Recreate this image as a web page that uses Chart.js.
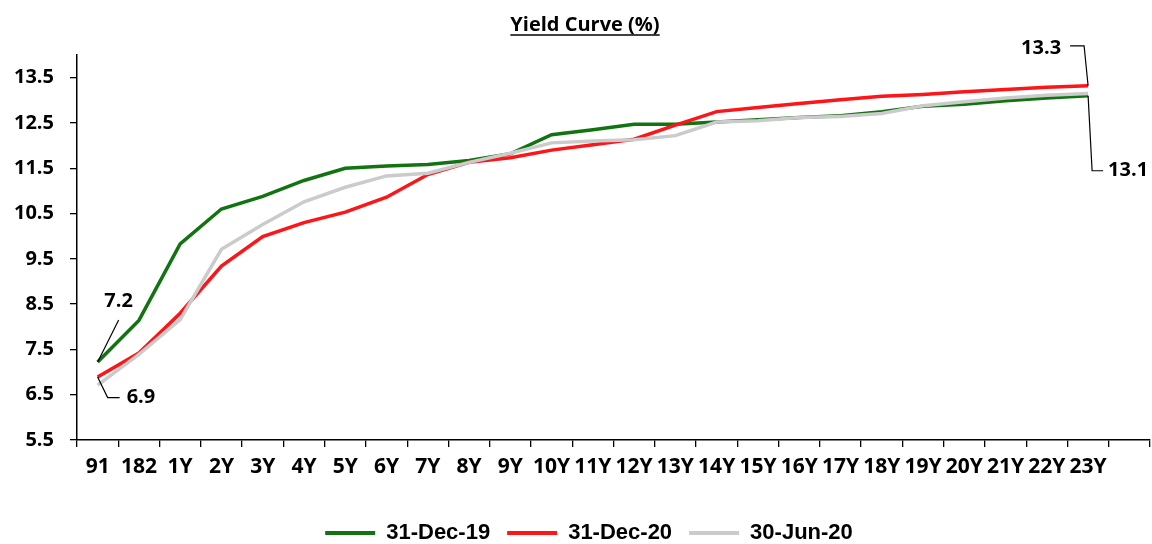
<!DOCTYPE html>
<html>
<head>
<meta charset="utf-8">
<script src="https://cdn.jsdelivr.net/npm/chart.js@4.4.1/dist/chart.umd.min.js"></script>
<style>
  html, body { margin: 0; padding: 0; background: #ffffff; }
  #wrap { width: 1152px; height: 544px; }
</style>
</head>
<body>
<div id="wrap"><canvas id="yieldChart" width="1152" height="544"></canvas></div>
<script>
// Tenors along the curve (the trailing blank slot leaves room on the right)
const tenors = ['91', '182', '1Y', '2Y', '3Y', '4Y', '5Y', '6Y', '7Y', '8Y', '9Y', '10Y',
  '11Y', '12Y', '13Y', '14Y', '15Y', '16Y', '17Y', '18Y', '19Y', '20Y', '21Y', '22Y', '23Y', ''];

// Yields (%) per tenor
const dec19 = [7.22, 8.14, 9.83, 10.60, 10.88, 11.23, 11.50, 11.55, 11.58, 11.67, 11.82, 12.24,
  12.35, 12.47, 12.47, 12.52, 12.57, 12.62, 12.66, 12.75, 12.87, 12.91, 12.99, 13.05, 13.10];
const dec20 = [6.89, 7.42, 8.30, 9.34, 9.99, 10.30, 10.53, 10.86, 11.36, 11.63, 11.73, 11.90,
  12.02, 12.14, 12.45, 12.75, 12.84, 12.93, 13.01, 13.09, 13.13, 13.19, 13.24, 13.29, 13.32];
const jun20 = [6.71, 7.39, 8.16, 9.71, 10.26, 10.76, 11.08, 11.33, 11.39, 11.63, 11.83, 12.06,
  12.10, 12.13, 12.22, 12.52, 12.55, 12.62, 12.64, 12.71, 12.88, 12.97, 13.05, 13.11, 13.15];

const seriesNames = ['31-Dec-19', '31-Dec-20', '30-Jun-20'];
const yTickValues = [5.5, 6.5, 7.5, 8.5, 9.5, 10.5, 11.5, 12.5, 13.5];
const yMin = 5.5;
const yMax = 14;

const BOLD = 'bold';
const yTickFont = { family: "'Open Sans', sans-serif", size: 20, weight: BOLD };
const xTickFont = { family: "'Open Sans', sans-serif", size: 21, weight: BOLD };

// Value callouts: which point, leader path (pixel offsets from the point) and label placement
const callouts = [
  { ds: 0, idx: 0, path: [[0, 0], [21, -42]], dx: 21, dy: -61, align: 'center' },
  { ds: 1, idx: 0, path: [[0, 0], [10, 20.5], [22, 20.5]], dx: 29, dy: 20.5, align: 'left' },
  { ds: 1, idx: 24, path: [[0, 0], [-4, -40], [-18, -40]], dx: -27, dy: -38, align: 'right' },
  { ds: 0, idx: 24, path: [[0, 0], [4, 75], [15, 75]], dx: 20, dy: 75, align: 'left' }
];

const calloutPlugin = {
  id: 'callouts',
  afterDatasetsDraw(chart) {
    const ctx = chart.ctx;
    ctx.save();
    ctx.strokeStyle = '#000000';
    ctx.lineWidth = 1.2;
    ctx.fillStyle = '#000000';
    ctx.font = "bold 20px 'Open Sans', sans-serif";
    ctx.textBaseline = 'middle';
    callouts.forEach(c => {
      const pt = chart.getDatasetMeta(c.ds).data[c.idx];
      const value = chart.data.datasets[c.ds].data[c.idx];
      ctx.beginPath();
      c.path.forEach(([ox, oy], i) => {
        if (i === 0) ctx.moveTo(pt.x + ox, pt.y + oy); else ctx.lineTo(pt.x + ox, pt.y + oy);
      });
      ctx.stroke();
      ctx.textAlign = c.align;
      ctx.fillText(value.toFixed(1), pt.x + c.dx, pt.y + c.dy);
    });
    ctx.restore();
  }
};

// Nudge the full-width title and legend boxes to the right of the canvas centre
const boxShift = { title: 10, legend: 14 };
const shiftBoxes = {
  id: 'shiftBoxes',
  afterLayout(chart) {
    if (chart.titleBlock) { chart.titleBlock.left += boxShift.title; chart.titleBlock.right += boxShift.title; }
    if (chart.legend) { chart.legend.left += boxShift.legend; chart.legend.right += boxShift.legend; }
  }
};

// Underline beneath the chart title
const titleUnderline = {
  id: 'titleUnderline',
  afterDraw(chart) {
    const tb = chart.titleBlock;
    if (!tb) return;
    const ctx = chart.ctx;
    const opts = chart.options.plugins.title;
    ctx.save();
    ctx.font = "bold 20px 'Open Sans', sans-serif";
    const w = ctx.measureText(opts.text).width;
    const cx = (tb.left + tb.right) / 2;
    const y = tb.top + opts.padding.top + 22;
    ctx.strokeStyle = '#000000';
    ctx.lineWidth = 1.5;
    ctx.beginPath();
    ctx.moveTo(cx - w / 2, y);
    ctx.lineTo(cx + w / 2, y);
    ctx.stroke();
    ctx.restore();
  }
};

const lineStyle = (label, data, color, order) => ({
  label, data, borderColor: color, backgroundColor: color,
  borderWidth: 3.5, pointRadius: 0, pointHoverRadius: 0, tension: 0, fill: false, order
});

new Chart(document.getElementById('yieldChart'), {
  type: 'line',
  data: {
    labels: tenors,
    datasets: [
      lineStyle(seriesNames[0], dec19, '#117411', 2),
      lineStyle(seriesNames[1], dec20, '#ff1418', 1),
      lineStyle(seriesNames[2], jun20, '#cbcbcb', 0)
    ]
  },
  plugins: [calloutPlugin, shiftBoxes, titleUnderline],
  options: {
    responsive: false,
    animation: false,
    devicePixelRatio: 1,
    layout: { padding: { left: 0, right: 2, top: 0, bottom: -10 } },
    plugins: {
      tooltip: { enabled: false },
      title: {
        display: true,
        text: 'Yield Curve (%)',
        color: '#000000',
        font: { family: "'Open Sans', sans-serif", size: 20, weight: BOLD, lineHeight: 1.2 },
        padding: { top: 13, bottom: 18 }
      },
      legend: {
        position: 'bottom',
        labels: {
          color: '#000000',
          font: { family: "'Liberation Sans Narrow', 'Liberation Sans', sans-serif", size: 22, weight: BOLD },
          boxWidth: 50,
          boxHeight: 4,
          padding: 17,
          generateLabels(chart) {
            return chart.data.datasets.map((ds, i) => ({
              text: ds.label, fillStyle: ds.borderColor, strokeStyle: ds.borderColor,
              lineWidth: 0, fontColor: '#000000', datasetIndex: i, hidden: false
            }));
          }
        }
      }
    },
    scales: {
      x: {
        type: 'category',
        offset: true,
        grid: { offset: true, drawOnChartArea: false, drawTicks: true, tickLength: 7, color: '#000000', lineWidth: 1.3 },
        border: { display: true, color: '#000000', width: 1.5 },
        ticks: { color: '#000000', font: xTickFont, maxRotation: 0, minRotation: 0, autoSkip: false, padding: 7 },
        afterFit(scale) { scale.height = 65; }
      },
      y: {
        min: yMin,
        max: yMax,
        grid: { drawOnChartArea: false, drawTicks: true, tickLength: 7, color: '#000000', lineWidth: 1.3 },
        border: { display: true, color: '#000000', width: 1.5 },
        ticks: { color: '#000000', font: yTickFont, padding: 16, callback: v => Number(v).toFixed(1) },
        afterBuildTicks(scale) { scale.ticks = yTickValues.map(v => ({ value: v })); },
        afterFit(scale) { scale.width = 77; }
      }
    }
  }
});
</script>
</body>
</html>
